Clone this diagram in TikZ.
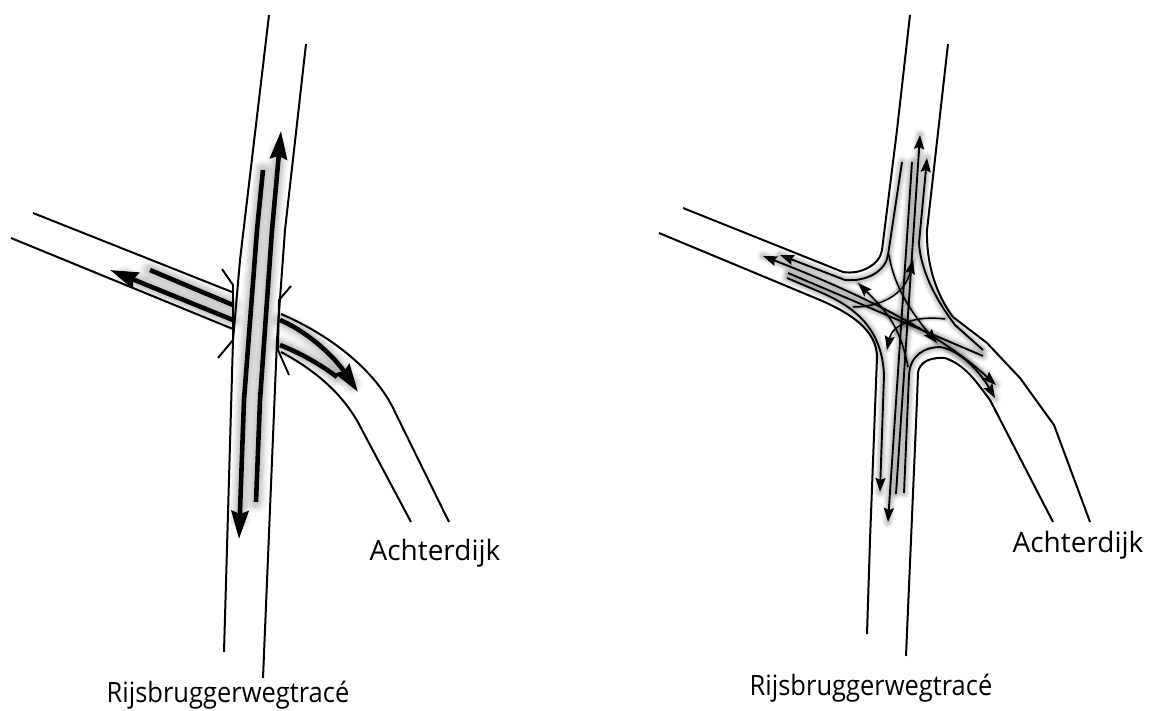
\documentclass[tikz,border=0pt]{standalone}
\usepackage{fontspec}
\setmainfont{Open Sans}
\usetikzlibrary{arrows.meta}
\tikzset{
  edge/.style={draw=black,line width=2pt,line join=round},
  lane/.style={draw=black,line width=1.9pt,line join=round},
  thinlane/.style={draw=black,line width=1.5pt,line join=round},
  fat/.style={draw=black,line width=4.6pt,line join=round},
  lbl/.style={inner sep=0pt,anchor=center,font=\fontsize{28}{32}\selectfont},
  lblr/.style={lbl,xscale=.91}
}
% soft grey band under a path
\newcommand{\softband}[2]{%
  \foreach \w/\o in {1/.025,.85/.03,.7/.04,.55/.05,.4/.06}{%
    \path[draw=black,opacity=\o,line width=\w*#1 pt,line cap=round,line join=round] #2;}}
% LEFT
\newcommand{\LA}{(263,170)--(257,230)--(244,400)--(240,520)}
\newcommand{\LB}{(279,150)--(272,230)--(260,400)--(256,502)}
\newcommand{\LC}{(125,276)--(233,320)}
\newcommand{\LD}{(150,270)--(233,305)}
\newcommand{\LE}{(280,320) .. controls (310,333) and (335,358) .. (352,384)}
\newcommand{\LF}{(280,345) .. controls (300,353) and (320,364) .. (337,377)}
% RIGHT lanes
\newcommand{\RnwI}{(780,255)--(845,280) .. controls (868,282) and (886,270) .. (888,255)--(902,162)}
\newcommand{\RswI}{(787,278)--(820,292) .. controls (850,305) and (882,325) .. (884,375)--(880,492)}
\newcommand{\RneI}{(927,158)--(919,243) .. controls (921,275) and (940,305) .. (955,325)--(983,350)}
\newcommand{\RseI}{(904,493)--(909,375) .. controls (910,355) and (925,347) .. (940,347) .. controls (960,350) and (980,372) .. (995,398)}
\newcommand{\RtA}{(912,162)--(888,522)}
\newcommand{\RtB}{(920,135)--(896,494)}
\newcommand{\RtC}{(788,273)--(983,356)}
\newcommand{\RtD}{(763,256) .. controls (840,286) and (930,325) .. (996,385)}
\newcommand{\RcA}{(889,255) .. controls (893,280) and (905,305) .. (937,343)}
\newcommand{\RcB}{(908,367) .. controls (900,325) and (885,310) .. (858,283)}
\newcommand{\RcC}{(853,307) .. controls (880,307) and (905,295) .. (913,260)}
\newcommand{\RcD}{(945,319) .. controls (915,315) and (892,325) .. (887,350)}
\begin{document}
\begin{tikzpicture}[x=1pt,y=-1pt]
\useasboundingbox (0,0) rectangle (1150,711);
\fill[white] (0,0) rectangle (1150,711);
% --- bands left
\softband{22}{\LA}
\softband{22}{\LB}
\softband{22}{\LC}
\softband{22}{\LD}
\softband{22}{\LE}
\softband{22}{\LF}
% --- bands right
\foreach \p in {\RnwI,\RswI,\RneI,\RseI,\RtA,\RtB,\RtC,\RtD}{\softband{13}{\p}}
\foreach \p in {\RcA,\RcB,\RcC,\RcD}{\softband{7}{\p}}
% --- left road edges
\draw[edge] (269,15)--(240,260)--(233,340)--(224,652);
\draw[edge] (306,44)--(285,230)--(277,340)--(263,678);
\draw[edge] (33,213)--(232,292);
\draw[edge] (11,238)--(233,329);
\draw[edge] (281,314) .. controls (330,335) and (375,370) .. (394,410)--(449,522);
\draw[edge] (281,352) .. controls (315,370) and (345,395) .. (362,430)--(411,522);
% bridge marks
\draw[lane] (222,269)--(233,285)--(233,340)--(218,358);
\draw[lane] (291,286)--(279,300)--(278,350)--(289,375);
% fat arrows
\draw[fat,-{Stealth[length=28pt,width=17pt,inset=3pt]}] (263,170)--(257,230)--(244,400)--(239,539);
\draw[fat,{Stealth[length=28pt,width=17pt,inset=3pt]}-] (281,131)--(272,230)--(260,400)--(256,502);
\draw[fat,{Stealth[length=28pt,width=17pt,inset=3pt]}-] (110,270)--(233,320);
\draw[fat] \LD;
\draw[fat,-{Stealth[length=28pt,width=17pt,inset=3pt]}] (280,320) .. controls (310,333) and (335,358) .. (358,392);
\draw[fat] \LF;
% --- right road edges
\draw[edge] (910,15)--(897,130)--(882,250) .. controls (880,265) and (860,275) .. (843,272)--(683,208);
\draw[edge] (948,44)--(927,230) .. controls (926,270) and (940,300) .. (953,317)--(987,343)--(1020,378)--(1054,425)--(1090,522);
\draw[edge] (659,233)--(820,300) .. controls (850,313) and (877,330) .. (877,357)--(870,540)--(867,634);
\draw[edge] (906,656)--(917,400)--(918,372) .. controls (920,362) and (930,357) .. (945,358) .. controls (965,365) and (975,380) .. (990,400)--(1053,522);
% lanes
\draw[lane,-{Stealth[length=14pt,width=10pt,inset=2pt]}] (902,162)--(888,255) .. controls (886,270) and (868,282) .. (845,280)--(780,255);
\draw[lane,-{Stealth[length=14pt,width=10pt,inset=2pt]}] \RswI;
\draw[lane,-{Stealth[length=14pt,width=10pt,inset=2pt]}] (983,350)--(955,325) .. controls (940,305) and (921,275) .. (919,243)--(927,158);
\draw[lane,-{Stealth[length=14pt,width=10pt,inset=2pt]}] \RseI;
\draw[lane,-{Stealth[length=14pt,width=10pt,inset=2pt]}] \RtA;
\draw[lane,{Stealth[length=14pt,width=10pt,inset=2pt]}-] \RtB;
\draw[lane] \RtC;
\draw[lane,{Stealth[length=14pt,width=10pt,inset=2pt]}-{Stealth[length=14pt,width=10pt,inset=2pt]}] \RtD;
\draw[thinlane,-{Stealth[length=14pt,width=10pt,inset=2pt]}] \RcA;
\draw[thinlane,-{Stealth[length=14pt,width=10pt,inset=2pt]}] \RcB;
\draw[thinlane,-{Stealth[length=14pt,width=10pt,inset=2pt]}] \RcC;
\draw[thinlane,-{Stealth[length=14pt,width=10pt,inset=2pt]}] \RcD;
% labels
\node[lbl] (a1) at (435,553) {Achterdijk};
\node[lblr] (r1) at (228,695) {Rijsbruggerwegtracé};
\node[lbl] (a2) at (1078,545) {Achterdijk};
\node[lblr] (r2) at (871,688) {Rijsbruggerwegtracé};
\end{tikzpicture}
\end{document}
